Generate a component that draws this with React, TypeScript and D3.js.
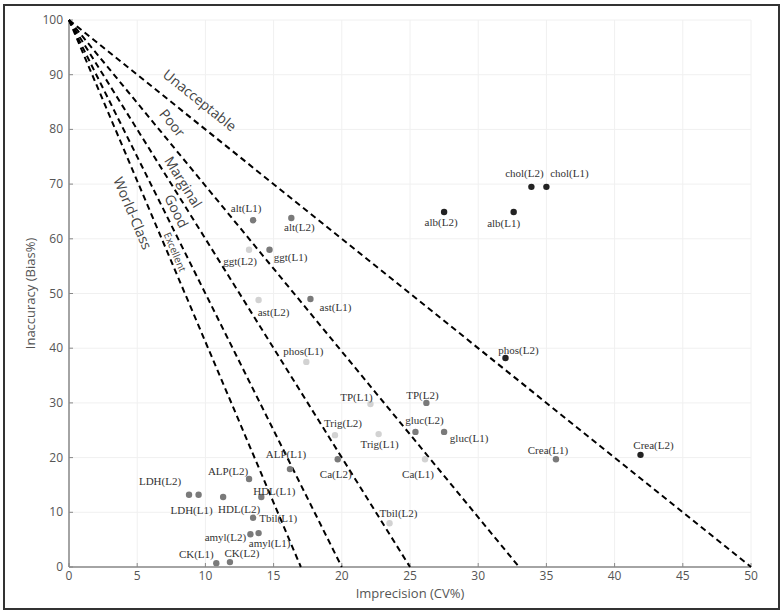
import * as d3 from "d3";

// analyte (level) points: imprecision CV% vs inaccuracy bias%
const analytes = [
  "chol(L2)", "chol(L1)", "alb(L2)", "alb(L1)", "phos(L2)", "Crea(L1)", "Crea(L2)",
  "alt(L1)", "alt(L2)", "ggt(L2)", "ggt(L1)", "ast(L2)", "ast(L1)", "phos(L1)",
  "TP(L1)", "TP(L2)", "gluc(L2)", "gluc(L1)", "Trig(L2)", "Trig(L1)", "Ca(L2)", "Ca(L1)",
  "Tbil(L2)", "ALP(L1)", "ALP(L2)", "LDH(L2)", "LDH(L1)", "HDL(L2)", "HDL(L1)",
  "Tbil(L1)", "amyl(L2)", "amyl(L1)", "CK(L1)", "CK(L2)",
];
const cv = [
  33.9, 35.0, 27.5, 32.6, 32.0, 35.7, 41.9,
  13.5, 16.3, 13.2, 14.7, 13.9, 17.7, 17.4,
  22.1, 26.2, 25.4, 27.5, 19.5, 22.7, 19.7, 26.1,
  23.5, 16.2, 13.2, 8.8, 9.5, 11.3, 14.1,
  13.5, 13.3, 13.9, 10.8, 11.8,
];
const bias = [
  69.5, 69.5, 64.9, 64.9, 38.2, 19.7, 20.5,
  63.4, 63.8, 58.0, 58.0, 48.8, 49.0, 37.5,
  29.8, 30.0, 24.7, 24.7, 24.1, 24.3, 19.7, 19.7,
  8.0, 17.9, 16.1, 13.2, 13.2, 12.8, 12.8,
  9.0, 6.0, 6.2, 0.7, 0.9,
];
// 0 = dark, 1 = mid, 2 = light
const shade = [
  0, 0, 0, 0, 0, 1, 0,
  1, 1, 2, 1, 2, 1, 2,
  2, 1, 1, 1, 2, 2, 1, 2,
  2, 1, 1, 1, 1, 1, 1,
  1, 1, 1, 1, 1,
];

// quality zone boundaries (x-intercept of line from (0,100))
const zoneIntercepts = [17, 20, 25, 33, 50];
const zoneNames = ["World-Class", "Excellent", "Good", "Marginal", "Poor", "Unacceptable"];
const zoneLabelAt = [[4.7, 64.7], [7.8, 57.6], [7.9, 65.1], [8.4, 70.4], [7.6, 81.2], [9.6, 85.4]];
const zoneLineFor = [17, 17, 20, 25, 33, 50];

const xTicks = [0, 5, 10, 15, 20, 25, 30, 35, 40, 45, 50];
const yTicks = [0, 10, 20, 30, 40, 50, 60, 70, 80, 90, 100];

// label offsets in px from each point
const labelDx = [
  -7, 23, -3, -10, 13, -8, 13,
  -7, 8, -9, 21, 15, 25, -3,
  -14, -4, 9, 25, 8, 1, -2, -7,
  9, -4, -21, -29, -7, 16, 13,
  25, -25, 11, -20, 12,
];
const labelDy = [
  -14, -14, 10, 11, -8, -9, -10,
  -12, 9, 11, 7, 12, 8, -11,
  -7, -8, -12, 6, -12, 10, 15, 15,
  -10, -15, -8, -14, 15, 12, -6,
  0, 3, 10, -9, -9,
];

const W = 784, H = 616;
const left = 69, right = 751, top = 20, bottom = 567;
const shadeColor = ["#222222", "#7a7a7a", "#d2d2d2"];
const sans = "'Open Sans', 'DejaVu Sans', sans-serif";

export default function App() {
  const x = d3.scaleLinear().domain([0, 50]).range([left, right]);
  const y = d3.scaleLinear().domain([0, 100]).range([bottom, top]);

  const angleFor = (xi: number) =>
    (Math.atan2(y(0) - y(100), x(xi) - x(0)) * 180) / Math.PI;

  return (
    <svg
      width={W}
      height={H}
      style={{ position: "absolute", left: 0, top: 0, background: "#fff" }}
    >
      <rect x={4} y={5} width={775} height={604} fill="#fff" stroke="#333" strokeWidth={2} />

      {/* grid */}
      {xTicks.map((t) => (
        <line key={"gx" + t} x1={x(t)} x2={x(t)} y1={top} y2={bottom} stroke="#f0f0f0" strokeWidth={1} />
      ))}
      {yTicks.map((t) => (
        <line key={"gy" + t} x1={left} x2={right} y1={y(t)} y2={y(t)} stroke="#f0f0f0" strokeWidth={1} />
      ))}

      {/* axes */}
      <line x1={left} x2={right} y1={bottom} y2={bottom} stroke="#888" strokeWidth={1.5} />
      <line x1={left} x2={left} y1={top} y2={bottom} stroke="#888" strokeWidth={1.5} />
      {xTicks.map((t) => (
        <g key={"xt" + t}>
          <line x1={x(t)} x2={x(t)} y1={bottom} y2={bottom - 4} stroke="#888" />
          <text x={x(t)} y={bottom + 13} textAnchor="middle" fontFamily={sans} fontSize={12} fill="#555">
            {t}
          </text>
        </g>
      ))}
      {yTicks.map((t) => (
        <g key={"yt" + t}>
          <line x1={left} x2={left + 4} y1={y(t)} y2={y(t)} stroke="#888" />
          <text x={left - 6} y={y(t) + 4} textAnchor="end" fontFamily={sans} fontSize={12} fill="#555">
            {t}
          </text>
        </g>
      ))}
      <text x={(left + right) / 2} y={598} textAnchor="middle" fontFamily={sans} fontSize={13} fill="#555">
        Imprecision (CV%)
      </text>
      <text
        transform={`translate(30,${(top + bottom) / 2}) rotate(-90)`}
        textAnchor="middle"
        dominantBaseline="central"
        fontFamily={sans}
        fontSize={13}
        fill="#555"
      >
        Inaccuracy (Bias%)
      </text>

      {/* zone lines */}
      {zoneIntercepts.map((xi) => (
        <line
          key={"z" + xi}
          x1={x(0)}
          y1={y(100)}
          x2={x(xi)}
          y2={y(0)}
          stroke="#000"
          strokeWidth={2}
          strokeDasharray="6,4"
        />
      ))}
      {zoneNames.map((n, i) => {
        const px = x(zoneLabelAt[i][0]);
        const py = y(zoneLabelAt[i][1]);
        return (
          <text
            key={n}
            transform={`translate(${px},${py}) rotate(${angleFor(zoneLineFor[i])})`}
            textAnchor="middle"
            dominantBaseline="central"
            fontFamily={sans}
            fontSize={n === "Excellent" ? 10 : 14}
            fill="#444"
          >
            {n}
          </text>
        );
      })}

      {/* points */}
      {analytes.map((a, i) => (
        <circle key={"p" + a} cx={x(cv[i])} cy={y(bias[i])} r={3.2} fill={shadeColor[shade[i]]} />
      ))}
      {analytes.map((a, i) => (
        <text
          key={"l" + a}
          x={x(cv[i]) + labelDx[i]}
          y={y(bias[i]) + labelDy[i]}
          textAnchor="middle"
          dominantBaseline="central"
          fontFamily="'Liberation Serif', 'Times New Roman', serif"
          fontSize={11}
          fill="#333"
        >
          {a}
        </text>
      ))}
    </svg>
  );
}
